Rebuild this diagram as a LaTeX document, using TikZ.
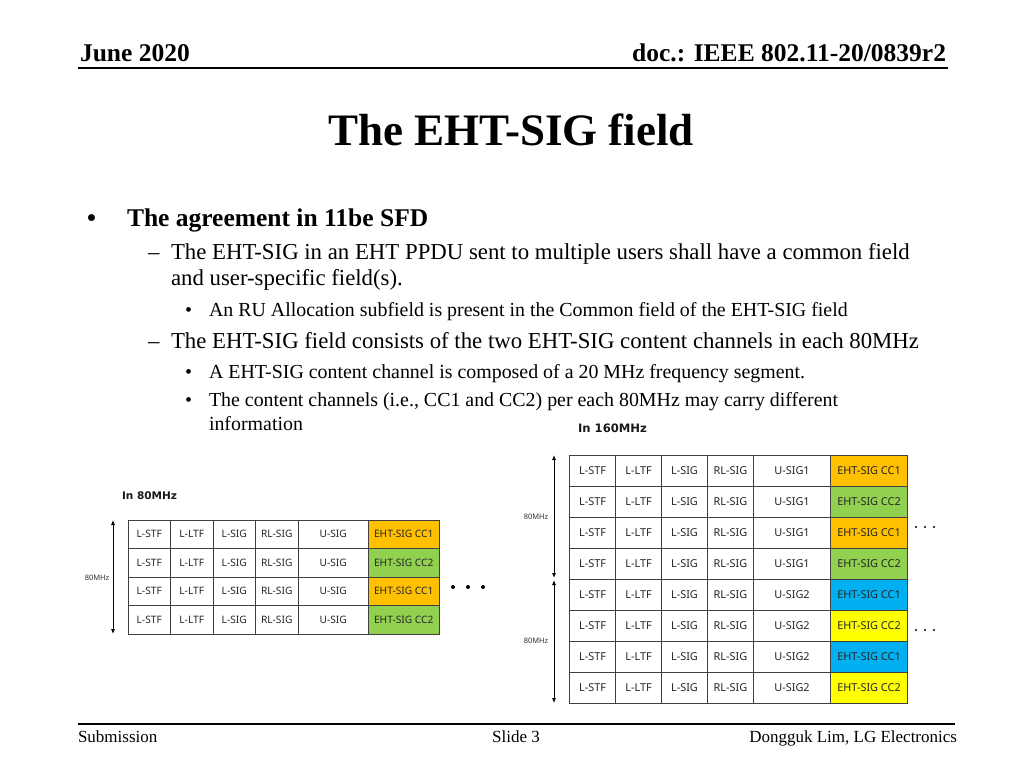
\documentclass[tikz,border=0pt]{standalone}
\usepackage{fontspec}
\setmainfont{Liberation Serif}
\newfontfamily\cellfont{Noto Sans}
\newfontfamily\capfont{DejaVu Sans}
\usetikzlibrary{arrows.meta}
\definecolor{ccorange}{HTML}{FFC000}
\definecolor{ccgreen}{HTML}{92D050}
\definecolor{ccblue}{HTML}{00B0F0}
\definecolor{ccyellow}{HTML}{FFFF00}
\tikzset{
  txt/.style={inner sep=0, outer sep=0, anchor=base west},
  hdr/.style={txt, font=\bfseries\fontsize{25.5}{28}\selectfont},
  lvlone/.style={txt, font=\bfseries\fontsize{25.5}{28}\selectfont},
  lvltwo/.style={txt, font=\fontsize{22.8}{26}\selectfont},
  lvlthree/.style={txt, font=\fontsize{19.9}{22}\selectfont},
  foot/.style={inner sep=0, outer sep=0, anchor=base, font=\fontsize{17}{20}\selectfont},
  cellbase/.style={draw=black!75, line width=0.8pt, inner sep=0, outer sep=0, anchor=north west, text=black!85},
  cellL/.style={cellbase, minimum height=28.5pt, font=\cellfont\fontsize{10.2}{10.2}\selectfont},
  cellR/.style={cellbase, minimum height=31pt, font=\cellfont\fontsize{10.9}{10.9}\selectfont},
  tabcap/.style={inner sep=0, outer sep=0, font=\capfont\bfseries\fontsize{10.5}{10.5}\selectfont, text=black!90},
  mhz/.style={inner sep=0, outer sep=0, font=\cellfont\fontsize{7.5}{7.5}\selectfont, text=black!80},
  spanarrow/.style={line width=0.8pt, {Latex[length=5pt,width=4pt]}-{Latex[length=5pt,width=4pt]}},
  dotfill/.style={fill=black},
}
\begin{document}
\begin{tikzpicture}[x=1pt,y=-1pt]
\useasboundingbox (0,0) rectangle (1024,768);
\fill[white] (0,0) rectangle (1024,768);

% header
\node[hdr] (date) at (80,62) {June 2020};
\node[hdr, anchor=base east] (doc) at (946,62) {doc.: IEEE 802.11-20/0839r2};
\draw[line width=1.5pt] (78,68) -- (948,68);

% title
\node[inner sep=0, anchor=base, font=\bfseries\fontsize{45}{50}\selectfont] (title) at (511,145) {The EHT-SIG field};

% bullets
\node[lvlone] (b1m) at (87,226) {•};
\node[lvlone] (b1) at (127,226) {The agreement in 11be SFD};
\node[lvltwo] (b2m) at (148,259) {–};
\node[lvltwo] (b2) at (171,259) {The EHT-SIG in an EHT PPDU sent to multiple users shall have a common field};
\node[lvltwo] (b2b) at (171,285) {and user-specific field(s).};
\node[lvlthree] (b3m) at (185,316) {•};
\node[lvlthree] (b3) at (209,316) {An RU Allocation subfield is present in the Common field of the EHT-SIG field};
\node[lvltwo] (b4m) at (148,348) {–};
\node[lvltwo] (b4) at (171,348) {The EHT-SIG field consists of the two EHT-SIG content channels in each 80MHz};
\node[lvlthree] (b5m) at (185,378) {•};
\node[lvlthree] (b5) at (209,378) {A EHT-SIG content channel is composed of a 20 MHz frequency segment.};
\node[lvlthree] (b6m) at (185,406) {•};
\node[lvlthree] (b6) at (209,406) {The content channels (i.e., CC1 and CC2) per each 80MHz may carry different};
\node[lvlthree] (b6b) at (209,430) {information};

% left table (80 MHz)
\node[tabcap] (capL) at (149.5,496) {In 80MHz};
\foreach \r/\fc/\cc in {0/ccorange/1, 1/ccgreen/2, 2/ccorange/1, 3/ccgreen/2}{
  \pgfmathsetmacro\yy{520+28.5*\r}
  \node[cellL, minimum width=42.5pt] (a\r1) at (128,\yy) {L-STF};
  \node[cellL, minimum width=42.5pt] (a\r2) at (a\r1.north east) {L-LTF};
  \node[cellL, minimum width=42.5pt] (a\r3) at (a\r2.north east) {L-SIG};
  \node[cellL, minimum width=42.5pt] (a\r4) at (a\r3.north east) {RL-SIG};
  \node[cellL, minimum width=70.5pt] (a\r5) at (a\r4.north east) {U-SIG};
  \node[cellL, minimum width=70.5pt, fill=\fc] (a\r6) at (a\r5.north east) {EHT-SIG CC\cc};
}
\coordinate (la) at (113,520);
\coordinate (lb) at (113,634);
\draw[spanarrow] (la) -- (lb);
\node[mhz] (mhzL) at (97,578) {80MHz};
\fill[dotfill] (453,587) circle[radius=2pt] (468,587) circle[radius=2pt] (483,587) circle[radius=2pt];

% right table (160 MHz)
\node[tabcap, font=\capfont\bfseries\fontsize{11.6}{11.6}\selectfont] (capR) at (612.5,428) {In 160MHz};
\foreach \r/\us/\fc/\cc in {0/1/ccorange/1, 1/1/ccgreen/2, 2/1/ccorange/1, 3/1/ccgreen/2, 4/2/ccblue/1, 5/2/ccyellow/2, 6/2/ccblue/1, 7/2/ccyellow/2}{
  \pgfmathsetmacro\yy{455+31*\r}
  \node[cellR, minimum width=46pt] (b\r1) at (569.5,\yy) {L-STF};
  \node[cellR, minimum width=46pt] (b\r2) at (b\r1.north east) {L-LTF};
  \node[cellR, minimum width=46pt] (b\r3) at (b\r2.north east) {L-SIG};
  \node[cellR, minimum width=46pt] (b\r4) at (b\r3.north east) {RL-SIG};
  \node[cellR, minimum width=77pt] (b\r5) at (b\r4.north east) {U-SIG\us};
  \node[cellR, minimum width=77pt, fill=\fc] (b\r6) at (b\r5.north east) {EHT-SIG CC\cc};
}
\coordinate (ra) at (554,455);
\coordinate (rb) at (554,578);
\coordinate (rc) at (554,580);
\coordinate (rd) at (554,703);
\draw[spanarrow] (ra) -- (rb);
\draw[spanarrow] (rc) -- (rd);
\node[mhz] (mhzR1) at (536,517) {80MHz};
\node[mhz] (mhzR2) at (536,641) {80MHz};
\fill[dotfill] (916,527) circle[radius=1.2pt] (925,527) circle[radius=1.2pt] (934,527) circle[radius=1.2pt];
\fill[dotfill] (916,630) circle[radius=1.2pt] (925,630) circle[radius=1.2pt] (934,630) circle[radius=1.2pt];

% footer
\draw[line width=1.2pt] (78,724) -- (955,724);
\node[foot, anchor=base west] (sub) at (78,742) {Submission};
\node[foot] (slide) at (516,742) {Slide 3};
\node[foot, anchor=base east] (auth) at (957,742) {Dongguk Lim, LG Electronics};
\end{tikzpicture}
\end{document}
